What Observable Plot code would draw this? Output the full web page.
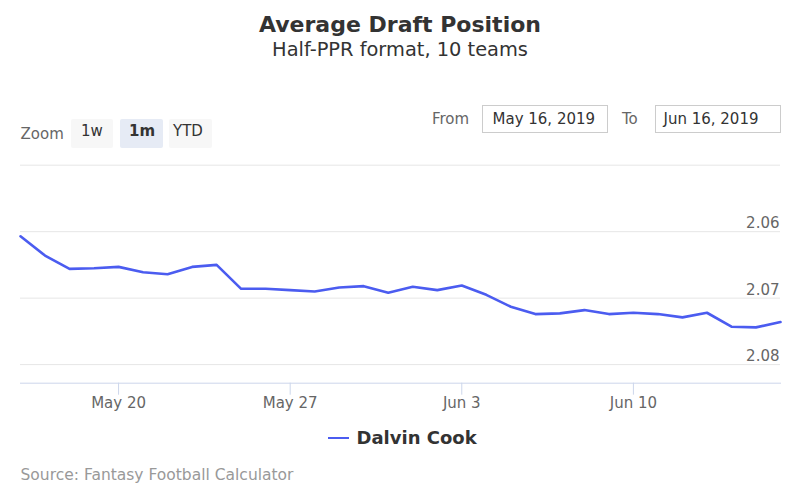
<!DOCTYPE html>
<html>
<head>
<meta charset="utf-8">
<script src="https://cdn.jsdelivr.net/npm/d3@7"></script>
<script src="https://cdn.jsdelivr.net/npm/@observablehq/plot@0.6"></script>
<style>
  html, body { margin: 0; padding: 0; background: #fff; }
  body { width: 800px; height: 500px; position: relative; overflow: hidden; font-family: "DejaVu Sans", sans-serif; }
  .abs { position: absolute; white-space: nowrap; }
  #title { left: 0; width: 800px; text-align: center; top: 14.4px; font-size: 22px; line-height: 22px; font-weight: bold; color: #333; }
  #subtitle { left: 0; width: 800px; text-align: center; top: 40px; font-size: 19.4px; line-height: 19.4px; color: #333; }
  .lbl { font-size: 15px; line-height: 15px; color: #666; }
  .btn { position: absolute; top: 119px; height: 29px; background: #f7f7f7; border-radius: 2px; }
  .btntext { font-size: 15px; line-height: 15px; color: #333; }
  .box { position: absolute; top: 105px; height: 28px; border: 1px solid #cccccc; box-sizing: border-box; }
  .boxtext { font-size: 15px; line-height: 15px; color: #333; }
  #chart { position: absolute; left: 0; top: 150px; }
  #legendLine { position: absolute; left: 328px; top: 437px; width: 21px; height: 2px; background: #4b5cf0; }
  #legendText { left: 356.5px; top: 428.8px; font-size: 18px; line-height: 18px; font-weight: bold; color: #333; }
  #source { left: 20.5px; top: 467.9px; font-size: 15.5px; line-height: 15.5px; color: #999; }
</style>
</head>
<body>
<div id="title" class="abs">Average Draft Position</div>
<div id="subtitle" class="abs">Half-PPR format, 10 teams</div>

<div class="abs lbl" style="left:20.5px; top:126.6px;">Zoom</div>
<div class="btn" style="left:71px; width:42px;"></div>
<div class="btn" style="left:120px; width:43px; background:#e6ebf5;"></div>
<div class="btn" style="left:169px; width:43px;"></div>
<div class="abs btntext" style="left:81px; top:124.3px;">1w</div>
<div class="abs btntext" style="left:129px; top:124.3px; font-weight:bold;">1m</div>
<div class="abs btntext" style="left:173px; top:124.3px;">YTD</div>

<div class="abs lbl" style="left:432px; top:111.6px;">From</div>
<div class="box" style="left:481.5px; width:126px;"></div>
<div class="abs boxtext" style="left:492.5px; top:111.6px;">May 16, 2019</div>
<div class="abs lbl" style="left:622px; top:111.6px;">To</div>
<div class="box" style="left:655px; width:126px;"></div>
<div class="abs boxtext" style="left:663.5px; top:111.6px;">Jun 16, 2019</div>

<div id="chart"></div>

<div id="legendLine"></div>
<div id="legendText" class="abs">Dalvin Cook</div>
<div id="source" class="abs">Source: Fantasy Football Calculator</div>

<script>
// ---- Data ----
const dates = [
  "2019-05-16","2019-05-17","2019-05-18","2019-05-19","2019-05-20","2019-05-21","2019-05-22","2019-05-23",
  "2019-05-24","2019-05-25","2019-05-26","2019-05-27","2019-05-28","2019-05-29","2019-05-30","2019-05-31",
  "2019-06-01","2019-06-02","2019-06-03","2019-06-04","2019-06-05","2019-06-06","2019-06-07","2019-06-08",
  "2019-06-09","2019-06-10","2019-06-11","2019-06-12","2019-06-13","2019-06-14","2019-06-15","2019-06-16"
];
const adp = [
  2.0607, 2.0636, 2.0656, 2.0655, 2.0653, 2.0661, 2.0664, 2.0653,
  2.0650, 2.0686, 2.0686, 2.0688, 2.0690, 2.0684, 2.0682, 2.0692,
  2.0683, 2.0688, 2.0681, 2.0695, 2.0713, 2.0724, 2.0723, 2.0718,
  2.0724, 2.0722, 2.0724, 2.0729, 2.0722, 2.0743, 2.0744, 2.0736
];
const seriesName = "Dalvin Cook";
const xTicks = ["2019-05-20","2019-05-27","2019-06-03","2019-06-10"];
const yGrid = [2.05, 2.06, 2.07, 2.08];
const yLabels = [2.06, 2.07, 2.08];
const xDomain = ["2019-05-16","2019-06-16"];
const yDomain = [2.05, 2.0828];

const data = dates.map((d, i) => ({date: new Date(d + "T00:00:00Z"), value: adp[i], name: seriesName}));

const chart = Plot.plot({
  width: 800,
  height: 265,
  marginLeft: 20,
  marginRight: 20,
  marginTop: 14.7,
  marginBottom: 32.3,
  style: {fontFamily: "DejaVu Sans, sans-serif", fontSize: "15px", background: "transparent"},
  x: {type: "utc", domain: xDomain.map(d => new Date(d + "T00:00:00Z"))},
  y: {domain: yDomain, reverse: true, axis: null},
  marks: [
    Plot.gridY(yGrid, {stroke: "#e6e6e6", strokeOpacity: 1, strokeWidth: 1}),
    Plot.frame({anchor: "bottom", stroke: "#ccd6eb", strokeOpacity: 1}),
    Plot.axisX(xTicks.map(d => new Date(d + "T00:00:00Z")), {
      tickSize: 12, tickPadding: 2, stroke: "#ccd6eb", strokeOpacity: 1, fill: "#666",
      tickFormat: d => d3.utcFormat("%b %-d")(d), label: null
    }),
    Plot.text(yLabels, {y: d => d, text: d => d.toFixed(2), frameAnchor: "right", textAnchor: "end", dx: -1, dy: -8, fill: "#666", fontSize: 15}),
    Plot.line(data, {x: "date", y: "value", stroke: "#4b5cf0", strokeWidth: 2.6, strokeLinejoin: "round", strokeLinecap: "round"})
  ]
});
document.getElementById("chart").appendChild(chart);
</script>
</body>
</html>
